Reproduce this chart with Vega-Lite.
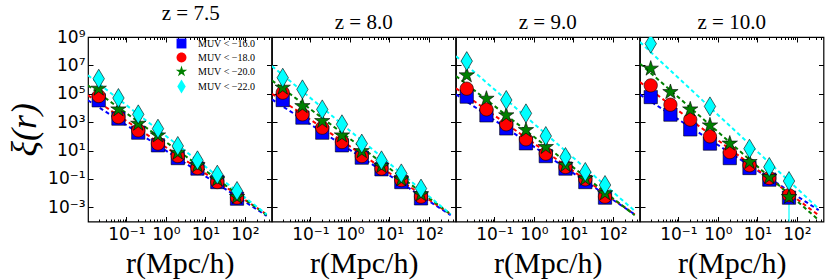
{
"$schema": "https://vega.github.io/schema/vega-lite/v6.json",
"padding": {"left": 5, "top": 2, "right": 0, "bottom": 0},
"spacing": 0,
"bounds": "flush",
"datasets": {
"pts": [
{"z":"7.5","s":"-16.0","r":0.02,"xi":34700},{"z":"7.5","s":"-16.0","r":0.063,"xi":1780},{"z":"7.5","s":"-16.0","r":0.2,"xi":182},{"z":"7.5","s":"-16.0","r":0.63,"xi":23.4},{"z":"7.5","s":"-16.0","r":2,"xi":2.95},{"z":"7.5","s":"-16.0","r":6.3,"xi":0.537},{"z":"7.5","s":"-16.0","r":20,"xi":0.0603},{"z":"7.5","s":"-16.0","r":63,"xi":0.00407},
{"z":"7.5","s":"-18.0","r":0.02,"xi":69200},{"z":"7.5","s":"-18.0","r":0.063,"xi":2290},{"z":"7.5","s":"-18.0","r":0.2,"xi":263},{"z":"7.5","s":"-18.0","r":0.63,"xi":30.9},{"z":"7.5","s":"-18.0","r":2,"xi":4.07},{"z":"7.5","s":"-18.0","r":6.3,"xi":0.589},{"z":"7.5","s":"-18.0","r":20,"xi":0.0603},{"z":"7.5","s":"-18.0","r":63,"xi":0.00479},
{"z":"7.5","s":"-20.0","r":0.02,"xi":229000},{"z":"7.5","s":"-20.0","r":0.063,"xi":7940},{"z":"7.5","s":"-20.0","r":0.2,"xi":776},{"z":"7.5","s":"-20.0","r":0.63,"xi":117},{"z":"7.5","s":"-20.0","r":2,"xi":7.08},{"z":"7.5","s":"-20.0","r":6.3,"xi":0.912},{"z":"7.5","s":"-20.0","r":20,"xi":0.0933},{"z":"7.5","s":"-20.0","r":63,"xi":0.00537},
{"z":"7.5","s":"-22.0","r":0.02,"xi":1150000},{"z":"7.5","s":"-22.0","r":0.063,"xi":50100},{"z":"7.5","s":"-22.0","r":0.2,"xi":3550},{"z":"7.5","s":"-22.0","r":0.63,"xi":347},{"z":"7.5","s":"-22.0","r":2,"xi":20.9},{"z":"7.5","s":"-22.0","r":6.3,"xi":2.04},{"z":"7.5","s":"-22.0","r":20,"xi":0.2},{"z":"7.5","s":"-22.0","r":63,"xi":0.0141},
{"z":"8.0","s":"-16.0","r":0.02,"xi":36300},{"z":"8.0","s":"-16.0","r":0.063,"xi":2090},{"z":"8.0","s":"-16.0","r":0.2,"xi":182},{"z":"8.0","s":"-16.0","r":0.63,"xi":23.4},{"z":"8.0","s":"-16.0","r":2,"xi":3.16},{"z":"8.0","s":"-16.0","r":6.3,"xi":0.479},{"z":"8.0","s":"-16.0","r":20,"xi":0.0603},{"z":"8.0","s":"-16.0","r":63,"xi":0.00427},
{"z":"8.0","s":"-18.0","r":0.02,"xi":120000},{"z":"8.0","s":"-18.0","r":0.063,"xi":3550},{"z":"8.0","s":"-18.0","r":0.2,"xi":407},{"z":"8.0","s":"-18.0","r":0.63,"xi":39.8},{"z":"8.0","s":"-18.0","r":2,"xi":4.07},{"z":"8.0","s":"-18.0","r":6.3,"xi":0.537},{"z":"8.0","s":"-18.0","r":20,"xi":0.0832},{"z":"8.0","s":"-18.0","r":63,"xi":0.00562},
{"z":"8.0","s":"-20.0","r":0.02,"xi":269000},{"z":"8.0","s":"-20.0","r":0.063,"xi":13500},{"z":"8.0","s":"-20.0","r":0.2,"xi":1200},{"z":"8.0","s":"-20.0","r":0.63,"xi":117},{"z":"8.0","s":"-20.0","r":2,"xi":9.12},{"z":"8.0","s":"-20.0","r":6.3,"xi":0.813},{"z":"8.0","s":"-20.0","r":20,"xi":0.0933},{"z":"8.0","s":"-20.0","r":63,"xi":0.00832},
{"z":"8.0","s":"-22.0","r":0.02,"xi":1350000},{"z":"8.0","s":"-22.0","r":0.063,"xi":204000},{"z":"8.0","s":"-22.0","r":0.2,"xi":7940},{"z":"8.0","s":"-22.0","r":0.63,"xi":708},{"z":"8.0","s":"-22.0","r":2,"xi":30.9},{"z":"8.0","s":"-22.0","r":6.3,"xi":2.04},{"z":"8.0","s":"-22.0","r":20,"xi":0.245},{"z":"8.0","s":"-22.0","r":63,"xi":0.0209},
{"z":"9.0","s":"-16.0","r":0.02,"xi":63100},{"z":"9.0","s":"-16.0","r":0.063,"xi":3020},{"z":"9.0","s":"-16.0","r":0.2,"xi":363},{"z":"9.0","s":"-16.0","r":0.63,"xi":32.4},{"z":"9.0","s":"-16.0","r":2,"xi":4.07},{"z":"9.0","s":"-16.0","r":6.3,"xi":0.537},{"z":"9.0","s":"-16.0","r":20,"xi":0.0603},{"z":"9.0","s":"-16.0","r":63,"xi":0.00479},
{"z":"9.0","s":"-18.0","r":0.02,"xi":229000},{"z":"9.0","s":"-18.0","r":0.063,"xi":7940},{"z":"9.0","s":"-18.0","r":0.2,"xi":708},{"z":"9.0","s":"-18.0","r":0.63,"xi":61.7},{"z":"9.0","s":"-18.0","r":2,"xi":6.03},{"z":"9.0","s":"-18.0","r":6.3,"xi":0.692},{"z":"9.0","s":"-18.0","r":20,"xi":0.0933},{"z":"9.0","s":"-18.0","r":63,"xi":0.00562},
{"z":"9.0","s":"-20.0","r":0.02,"xi":2000000},{"z":"9.0","s":"-20.0","r":0.063,"xi":44700},{"z":"9.0","s":"-20.0","r":0.2,"xi":3020},{"z":"9.0","s":"-20.0","r":0.63,"xi":275},{"z":"9.0","s":"-20.0","r":2,"xi":17.8},{"z":"9.0","s":"-20.0","r":6.3,"xi":0.955},{"z":"9.0","s":"-20.0","r":20,"xi":0.105},{"z":"9.0","s":"-20.0","r":63,"xi":0.00977},
{"z":"9.0","s":"-22.0","r":0.02,"xi":20000000},{"z":"9.0","s":"-22.0","r":0.2,"xi":36300},{"z":"9.0","s":"-22.0","r":0.63,"xi":4170},{"z":"9.0","s":"-22.0","r":2,"xi":105},{"z":"9.0","s":"-22.0","r":6.3,"xi":3.47},{"z":"9.0","s":"-22.0","r":20,"xi":0.309},{"z":"9.0","s":"-22.0","r":63,"xi":0.0372},
{"z":"10.0","s":"-16.0","r":0.02,"xi":58900},{"z":"10.0","s":"-16.0","r":0.063,"xi":3390},{"z":"10.0","s":"-16.0","r":0.2,"xi":309},{"z":"10.0","s":"-16.0","r":0.63,"xi":30.9},{"z":"10.0","s":"-16.0","r":2,"xi":2.95},{"z":"10.0","s":"-16.0","r":6.3,"xi":0.589},{"z":"10.0","s":"-16.0","r":20,"xi":0.0891},{"z":"10.0","s":"-16.0","r":63,"xi":0.00479},
{"z":"10.0","s":"-18.0","r":0.02,"xi":389000},{"z":"10.0","s":"-18.0","r":0.063,"xi":17000},{"z":"10.0","s":"-18.0","r":0.2,"xi":1510},{"z":"10.0","s":"-18.0","r":0.63,"xi":100},{"z":"10.0","s":"-18.0","r":2,"xi":7.76},{"z":"10.0","s":"-18.0","r":6.3,"xi":0.912},{"z":"10.0","s":"-18.0","r":20,"xi":0.115},{"z":"10.0","s":"-18.0","r":63,"xi":0.00708},
{"z":"10.0","s":"-20.0","r":0.02,"xi":5890000},{"z":"10.0","s":"-20.0","r":0.063,"xi":132000},{"z":"10.0","s":"-20.0","r":0.2,"xi":7940},{"z":"10.0","s":"-20.0","r":0.63,"xi":589},{"z":"10.0","s":"-20.0","r":2,"xi":30.9},{"z":"10.0","s":"-20.0","r":6.3,"xi":1.55},{"z":"10.0","s":"-20.0","r":20,"xi":0.135},{"z":"10.0","s":"-20.0","r":63,"xi":0.00537},
{"z":"10.0","s":"-22.0","r":0.02,"xi":339000000},{"z":"10.0","s":"-22.0","r":0.63,"xi":12900},{"z":"10.0","s":"-22.0","r":6.3,"xi":13.5},{"z":"10.0","s":"-22.0","r":20,"xi":0.692},{"z":"10.0","s":"-22.0","r":63,"xi":0.0708}
],
"lines": [
{"z":"7.5","s":"-16.0","r":0.0107,"xi":34700},{"z":"7.5","s":"-16.0","r":355,"xi":0.000251},
{"z":"7.5","s":"-18.0","r":0.0107,"xi":77600},{"z":"7.5","s":"-18.0","r":355,"xi":0.000316},
{"z":"7.5","s":"-20.0","r":0.0107,"xi":389000},{"z":"7.5","s":"-20.0","r":355,"xi":0.000282},
{"z":"7.5","s":"-22.0","r":0.0107,"xi":2000000},{"z":"7.5","s":"-22.0","r":355,"xi":0.000316},
{"z":"8.0","s":"-16.0","r":0.0107,"xi":39800},{"z":"8.0","s":"-16.0","r":355,"xi":0.000282},
{"z":"8.0","s":"-18.0","r":0.0107,"xi":100000},{"z":"8.0","s":"-18.0","r":355,"xi":0.000316},
{"z":"8.0","s":"-20.0","r":0.0107,"xi":871000},{"z":"8.0","s":"-20.0","r":355,"xi":0.000324},
{"z":"8.0","s":"-22.0","r":0.0107,"xi":8910000},{"z":"8.0","s":"-22.0","r":355,"xi":0.000324},
{"z":"9.0","s":"-16.0","r":0.0107,"xi":91200},{"z":"9.0","s":"-16.0","r":355,"xi":0.000316},
{"z":"9.0","s":"-18.0","r":0.0107,"xi":240000},{"z":"9.0","s":"-18.0","r":355,"xi":0.000316},
{"z":"9.0","s":"-20.0","r":0.0107,"xi":1780000},{"z":"9.0","s":"-20.0","r":355,"xi":0.000275},
{"z":"9.0","s":"-22.0","r":0.0107,"xi":44700000},{"z":"9.0","s":"-22.0","r":355,"xi":0.000562},
{"z":"10.0","s":"-16.0","r":0.0107,"xi":87100},{"z":"10.0","s":"-16.0","r":355,"xi":0.000631},
{"z":"10.0","s":"-18.0","r":0.0107,"xi":661000},{"z":"10.0","s":"-18.0","r":355,"xi":0.000275},
{"z":"10.0","s":"-20.0","r":0.0107,"xi":13200000},{"z":"10.0","s":"-20.0","r":355,"xi":0.000126},
{"z":"10.0","s":"-22.0","r":0.0107,"xi":437000000},{"z":"10.0","s":"-22.0","r":355,"xi":0.000794}
],
"err": [
{"z":"10.0","s":"-22.0","r":63,"hi":0.0708,"lo":0.000001}
]
},
"hconcat": [
{
"width": 183.5, "height": 184.5, "title": {"text": "z = 7.5", "dx": 11},
"layer": [
{"data": {"name": "lines"}, "transform": [{"filter": "datum.z == '7.5'"}],
 "mark": {"type": "line", "strokeDash": [4, 3], "strokeWidth": 2, "clip": true},
 "encoding": {
  "x": {"field": "r", "type": "quantitative", "scale": {"type": "log", "domain": [0.0107, 470], "nice": false},
   "axis": {"orient": "bottom", "values": [0.02,0.03,0.04,0.05,0.06,0.07,0.08,0.09,0.1,0.2,0.3,0.4,0.5,0.6,0.7,0.8,0.9,1,2,3,4,5,6,7,8,9,10,20,30,40,50,60,70,80,90,100,200,300,400],
    "labelExpr": "datum.value == 0.1 ? '10⁻¹' : datum.value == 1 ? '10⁰' : datum.value == 10 ? '10¹' : datum.value == 100 ? '10²' : ''",
    "tickSize": {"condition": {"test": "abs(log(datum.value)/LN10 - round(log(datum.value)/LN10)) < 0.001", "value": -5}, "value": -2.5},
    "labelPadding": 10, "title": "r(Mpc/h)"}},
  "y": {"field": "xi", "type": "quantitative", "scale": {"type": "log", "domain": [0.0001, 1000000000], "nice": false},
   "axis": {"orient": "left", "values": [0.001,0.1,10,1000,100000,10000000,1000000000], "tickSize": -5,
    "labelExpr": "datum.value > 1e8 ? '10⁹' : datum.value > 1e6 ? '10⁷' : datum.value > 1e4 ? '10⁵' : datum.value > 100 ? '10³' : datum.value > 1 ? '10¹' : datum.value > 0.01 ? '10⁻¹' : '10⁻³'",
    "labelPadding": 8, "title": "ξ(r)", "titleFontStyle": "italic", "titleFontSize": 36, "titlePadding": 4}},
  "stroke": {"field": "s", "type": "nominal", "scale": {"domain": ["-16.0","-18.0","-20.0","-22.0"], "range": ["#0000ff","#ff0000","#008000","#00ffff"]}, "legend": null}
 }},
{"data": {"name": "pts"}, "transform": [{"filter": "datum.z == '7.5'"}],
 "mark": {"type": "point", "filled": true, "opacity": 1, "size": 361, "stroke": "black", "strokeWidth": 0.6, "clip": true},
 "encoding": {
  "x": {"field": "r", "type": "quantitative", "scale": {"type": "log", "domain": [0.0107, 470], "nice": false},
   "axis": {"orient": "top", "values": [0.02,0.03,0.04,0.05,0.06,0.07,0.08,0.09,0.1,0.2,0.3,0.4,0.5,0.6,0.7,0.8,0.9,1,2,3,4,5,6,7,8,9,10,20,30,40,50,60,70,80,90,100,200,300,400], "labels": false, "title": null,
    "tickSize": {"condition": {"test": "abs(log(datum.value)/LN10 - round(log(datum.value)/LN10)) < 0.001", "value": -5}, "value": -2.5}}},
  "y": {"field": "xi", "type": "quantitative", "scale": {"type": "log", "domain": [0.0001, 1000000000], "nice": false},
   "axis": {"orient": "right", "values": [0.001,0.1,10,1000,100000,10000000,1000000000], "tickSize": -5, "labels": false, "title": null}},
  "color": {"field": "s", "type": "nominal", "scale": {"domain": ["-16.0","-18.0","-20.0","-22.0"], "range": ["#0000ff","#ff0000","#008000","#00ffff"]},
   "legend": {"orient": "none", "legendX": 86, "legendY": -1, "title": null, "symbolSize": 200, "rowPadding": 0, "padding": 0, "labelOffset": 9,
    "labelFont": "Liberation Serif", "labelFontSize": 10, "symbolStrokeColor": "black", "symbolStrokeWidth": 0.6, "symbolOpacity": 1,
    "labelExpr": "'MUV < −' + substring(datum.label, 1)"}},
  "shape": {"field": "s", "type": "nominal", "scale": {"domain": ["-16.0","-18.0","-20.0","-22.0"], "range": ["M-0.7,-0.7H0.7V0.7H-0.7Z", "M-0.7,0A0.7,0.7,0,1,1,0.7,0A0.7,0.7,0,1,1,-0.7,0Z", "M0,-0.85L0.191,-0.263L0.808,-0.263L0.309,0.1L0.5,0.688L0,0.325L-0.5,0.688L-0.309,0.1L-0.808,-0.263L-0.191,-0.263Z", "M0,-1L0.6,0L0,1L-0.6,0Z"]},
   "legend": {"orient": "none", "legendX": 86, "legendY": -1, "title": null, "symbolSize": 200, "rowPadding": 0, "padding": 0, "labelOffset": 9,
    "labelFont": "Liberation Serif", "labelFontSize": 10, "symbolStrokeColor": "black", "symbolStrokeWidth": 0.6, "symbolOpacity": 1,
    "labelExpr": "'MUV < −' + substring(datum.label, 1)"}}
 }}
],
"resolve": {"axis": {"x": "independent", "y": "independent"}}
},
{
"width": 183.5, "height": 184.5, "title": "z = 8.0",
"layer": [
{"data": {"name": "lines"}, "transform": [{"filter": "datum.z == '8.0'"}],
 "mark": {"type": "line", "strokeDash": [4, 3], "strokeWidth": 2, "clip": true},
 "encoding": {
  "x": {"field": "r", "type": "quantitative", "scale": {"type": "log", "domain": [0.0107, 470], "nice": false},
   "axis": {"orient": "bottom", "values": [0.02,0.03,0.04,0.05,0.06,0.07,0.08,0.09,0.1,0.2,0.3,0.4,0.5,0.6,0.7,0.8,0.9,1,2,3,4,5,6,7,8,9,10,20,30,40,50,60,70,80,90,100,200,300,400],
    "labelExpr": "datum.value == 0.1 ? '10⁻¹' : datum.value == 1 ? '10⁰' : datum.value == 10 ? '10¹' : datum.value == 100 ? '10²' : ''",
    "tickSize": {"condition": {"test": "abs(log(datum.value)/LN10 - round(log(datum.value)/LN10)) < 0.001", "value": -5}, "value": -2.5},
    "labelPadding": 10, "title": "r(Mpc/h)"}},
  "y": {"field": "xi", "type": "quantitative", "scale": {"type": "log", "domain": [0.0001, 1000000000], "nice": false},
   "axis": {"orient": "left", "values": [0.001,0.1,10,1000,100000,10000000,1000000000], "tickSize": -5, "labels": false, "title": null}},
  "stroke": {"field": "s", "type": "nominal", "scale": {"domain": ["-16.0","-18.0","-20.0","-22.0"], "range": ["#0000ff","#ff0000","#008000","#00ffff"]}, "legend": null}
 }},
{"data": {"name": "pts"}, "transform": [{"filter": "datum.z == '8.0'"}],
 "mark": {"type": "point", "filled": true, "opacity": 1, "size": 361, "stroke": "black", "strokeWidth": 0.6, "clip": true},
 "encoding": {
  "x": {"field": "r", "type": "quantitative", "scale": {"type": "log", "domain": [0.0107, 470], "nice": false},
   "axis": {"orient": "top", "values": [0.02,0.03,0.04,0.05,0.06,0.07,0.08,0.09,0.1,0.2,0.3,0.4,0.5,0.6,0.7,0.8,0.9,1,2,3,4,5,6,7,8,9,10,20,30,40,50,60,70,80,90,100,200,300,400], "labels": false, "title": null,
    "tickSize": {"condition": {"test": "abs(log(datum.value)/LN10 - round(log(datum.value)/LN10)) < 0.001", "value": -5}, "value": -2.5}}},
  "y": {"field": "xi", "type": "quantitative", "scale": {"type": "log", "domain": [0.0001, 1000000000], "nice": false},
   "axis": {"orient": "right", "values": [0.001,0.1,10,1000,100000,10000000,1000000000], "tickSize": -5, "labels": false, "title": null}},
  "color": {"field": "s", "type": "nominal", "scale": {"domain": ["-16.0","-18.0","-20.0","-22.0"], "range": ["#0000ff","#ff0000","#008000","#00ffff"]}, "legend": null},
  "shape": {"field": "s", "type": "nominal", "scale": {"domain": ["-16.0","-18.0","-20.0","-22.0"], "range": ["M-0.7,-0.7H0.7V0.7H-0.7Z", "M-0.7,0A0.7,0.7,0,1,1,0.7,0A0.7,0.7,0,1,1,-0.7,0Z", "M0,-0.85L0.191,-0.263L0.808,-0.263L0.309,0.1L0.5,0.688L0,0.325L-0.5,0.688L-0.309,0.1L-0.808,-0.263L-0.191,-0.263Z", "M0,-1L0.6,0L0,1L-0.6,0Z"]}, "legend": null}
 }}
],
"resolve": {"axis": {"x": "independent", "y": "independent"}}
},
{
"width": 183.5, "height": 184.5, "title": "z = 9.0",
"layer": [
{"data": {"name": "lines"}, "transform": [{"filter": "datum.z == '9.0'"}],
 "mark": {"type": "line", "strokeDash": [4, 3], "strokeWidth": 2, "clip": true},
 "encoding": {
  "x": {"field": "r", "type": "quantitative", "scale": {"type": "log", "domain": [0.0107, 470], "nice": false},
   "axis": {"orient": "bottom", "values": [0.02,0.03,0.04,0.05,0.06,0.07,0.08,0.09,0.1,0.2,0.3,0.4,0.5,0.6,0.7,0.8,0.9,1,2,3,4,5,6,7,8,9,10,20,30,40,50,60,70,80,90,100,200,300,400],
    "labelExpr": "datum.value == 0.1 ? '10⁻¹' : datum.value == 1 ? '10⁰' : datum.value == 10 ? '10¹' : datum.value == 100 ? '10²' : ''",
    "tickSize": {"condition": {"test": "abs(log(datum.value)/LN10 - round(log(datum.value)/LN10)) < 0.001", "value": -5}, "value": -2.5},
    "labelPadding": 10, "title": "r(Mpc/h)"}},
  "y": {"field": "xi", "type": "quantitative", "scale": {"type": "log", "domain": [0.0001, 1000000000], "nice": false},
   "axis": {"orient": "left", "values": [0.001,0.1,10,1000,100000,10000000,1000000000], "tickSize": -5, "labels": false, "title": null}},
  "stroke": {"field": "s", "type": "nominal", "scale": {"domain": ["-16.0","-18.0","-20.0","-22.0"], "range": ["#0000ff","#ff0000","#008000","#00ffff"]}, "legend": null}
 }},
{"data": {"name": "pts"}, "transform": [{"filter": "datum.z == '9.0'"}],
 "mark": {"type": "point", "filled": true, "opacity": 1, "size": 361, "stroke": "black", "strokeWidth": 0.6, "clip": true},
 "encoding": {
  "x": {"field": "r", "type": "quantitative", "scale": {"type": "log", "domain": [0.0107, 470], "nice": false},
   "axis": {"orient": "top", "values": [0.02,0.03,0.04,0.05,0.06,0.07,0.08,0.09,0.1,0.2,0.3,0.4,0.5,0.6,0.7,0.8,0.9,1,2,3,4,5,6,7,8,9,10,20,30,40,50,60,70,80,90,100,200,300,400], "labels": false, "title": null,
    "tickSize": {"condition": {"test": "abs(log(datum.value)/LN10 - round(log(datum.value)/LN10)) < 0.001", "value": -5}, "value": -2.5}}},
  "y": {"field": "xi", "type": "quantitative", "scale": {"type": "log", "domain": [0.0001, 1000000000], "nice": false},
   "axis": {"orient": "right", "values": [0.001,0.1,10,1000,100000,10000000,1000000000], "tickSize": -5, "labels": false, "title": null}},
  "color": {"field": "s", "type": "nominal", "scale": {"domain": ["-16.0","-18.0","-20.0","-22.0"], "range": ["#0000ff","#ff0000","#008000","#00ffff"]}, "legend": null},
  "shape": {"field": "s", "type": "nominal", "scale": {"domain": ["-16.0","-18.0","-20.0","-22.0"], "range": ["M-0.7,-0.7H0.7V0.7H-0.7Z", "M-0.7,0A0.7,0.7,0,1,1,0.7,0A0.7,0.7,0,1,1,-0.7,0Z", "M0,-0.85L0.191,-0.263L0.808,-0.263L0.309,0.1L0.5,0.688L0,0.325L-0.5,0.688L-0.309,0.1L-0.808,-0.263L-0.191,-0.263Z", "M0,-1L0.6,0L0,1L-0.6,0Z"]}, "legend": null}
 }}
],
"resolve": {"axis": {"x": "independent", "y": "independent"}}
},
{
"width": 183.5, "height": 184.5, "title": "z = 10.0",
"layer": [
{"data": {"name": "lines"}, "transform": [{"filter": "datum.z == '10.0'"}],
 "mark": {"type": "line", "strokeDash": [4, 3], "strokeWidth": 2, "clip": true},
 "encoding": {
  "x": {"field": "r", "type": "quantitative", "scale": {"type": "log", "domain": [0.0107, 470], "nice": false},
   "axis": {"orient": "bottom", "values": [0.02,0.03,0.04,0.05,0.06,0.07,0.08,0.09,0.1,0.2,0.3,0.4,0.5,0.6,0.7,0.8,0.9,1,2,3,4,5,6,7,8,9,10,20,30,40,50,60,70,80,90,100,200,300,400],
    "labelExpr": "datum.value == 0.1 ? '10⁻¹' : datum.value == 1 ? '10⁰' : datum.value == 10 ? '10¹' : datum.value == 100 ? '10²' : ''",
    "tickSize": {"condition": {"test": "abs(log(datum.value)/LN10 - round(log(datum.value)/LN10)) < 0.001", "value": -5}, "value": -2.5},
    "labelPadding": 10, "title": "r(Mpc/h)"}},
  "y": {"field": "xi", "type": "quantitative", "scale": {"type": "log", "domain": [0.0001, 1000000000], "nice": false},
   "axis": {"orient": "left", "values": [0.001,0.1,10,1000,100000,10000000,1000000000], "tickSize": -5, "labels": false, "title": null}},
  "stroke": {"field": "s", "type": "nominal", "scale": {"domain": ["-16.0","-18.0","-20.0","-22.0"], "range": ["#0000ff","#ff0000","#008000","#00ffff"]}, "legend": null}
 }},
{"data": {"name": "err"},
 "mark": {"type": "rule", "color": "#00ffff", "strokeWidth": 1.2, "clip": true},
 "encoding": {
  "x": {"field": "r", "type": "quantitative", "scale": {"type": "log", "domain": [0.0107, 470], "nice": false}, "axis": null},
  "y": {"field": "hi", "type": "quantitative", "scale": {"type": "log", "domain": [0.0001, 1000000000], "nice": false}, "axis": null},
  "y2": {"field": "lo"}
 }},
{"data": {"name": "pts"}, "transform": [{"filter": "datum.z == '10.0'"}],
 "mark": {"type": "point", "filled": true, "opacity": 1, "size": 361, "stroke": "black", "strokeWidth": 0.6, "clip": true},
 "encoding": {
  "x": {"field": "r", "type": "quantitative", "scale": {"type": "log", "domain": [0.0107, 470], "nice": false},
   "axis": {"orient": "top", "values": [0.02,0.03,0.04,0.05,0.06,0.07,0.08,0.09,0.1,0.2,0.3,0.4,0.5,0.6,0.7,0.8,0.9,1,2,3,4,5,6,7,8,9,10,20,30,40,50,60,70,80,90,100,200,300,400], "labels": false, "title": null,
    "tickSize": {"condition": {"test": "abs(log(datum.value)/LN10 - round(log(datum.value)/LN10)) < 0.001", "value": -5}, "value": -2.5}}},
  "y": {"field": "xi", "type": "quantitative", "scale": {"type": "log", "domain": [0.0001, 1000000000], "nice": false},
   "axis": {"orient": "right", "values": [0.001,0.1,10,1000,100000,10000000,1000000000], "tickSize": -5, "labels": false, "title": null}},
  "color": {"field": "s", "type": "nominal", "scale": {"domain": ["-16.0","-18.0","-20.0","-22.0"], "range": ["#0000ff","#ff0000","#008000","#00ffff"]}, "legend": null},
  "shape": {"field": "s", "type": "nominal", "scale": {"domain": ["-16.0","-18.0","-20.0","-22.0"], "range": ["M-0.7,-0.7H0.7V0.7H-0.7Z", "M-0.7,0A0.7,0.7,0,1,1,0.7,0A0.7,0.7,0,1,1,-0.7,0Z", "M0,-0.85L0.191,-0.263L0.808,-0.263L0.309,0.1L0.5,0.688L0,0.325L-0.5,0.688L-0.309,0.1L-0.808,-0.263L-0.191,-0.263Z", "M0,-1L0.6,0L0,1L-0.6,0Z"]}, "legend": null}
 }}
],
"resolve": {"axis": {"x": "independent", "y": "independent"}}
}
],
"resolve": {"legend": {"color": "independent", "shape": "independent"}},
"config": {
 "view": {"stroke": "black", "strokeWidth": 1.2},
 "axis": {"domain": false, "grid": false, "tickColor": "black", "tickWidth": 1, "labelColor": "black", "labelFont": "DejaVu Sans", "labelFontSize": 17,
  "labelOverlap": false, "labelFlush": false, "titleColor": "black", "titleFont": "Liberation Serif", "titleFontSize": 30, "titleFontWeight": "normal", "titlePadding": 3},
 "title": {"font": "Liberation Serif", "fontSize": 21, "fontWeight": "normal", "offset": 4, "color": "black", "frame": "group", "anchor": "middle"}
}
}
